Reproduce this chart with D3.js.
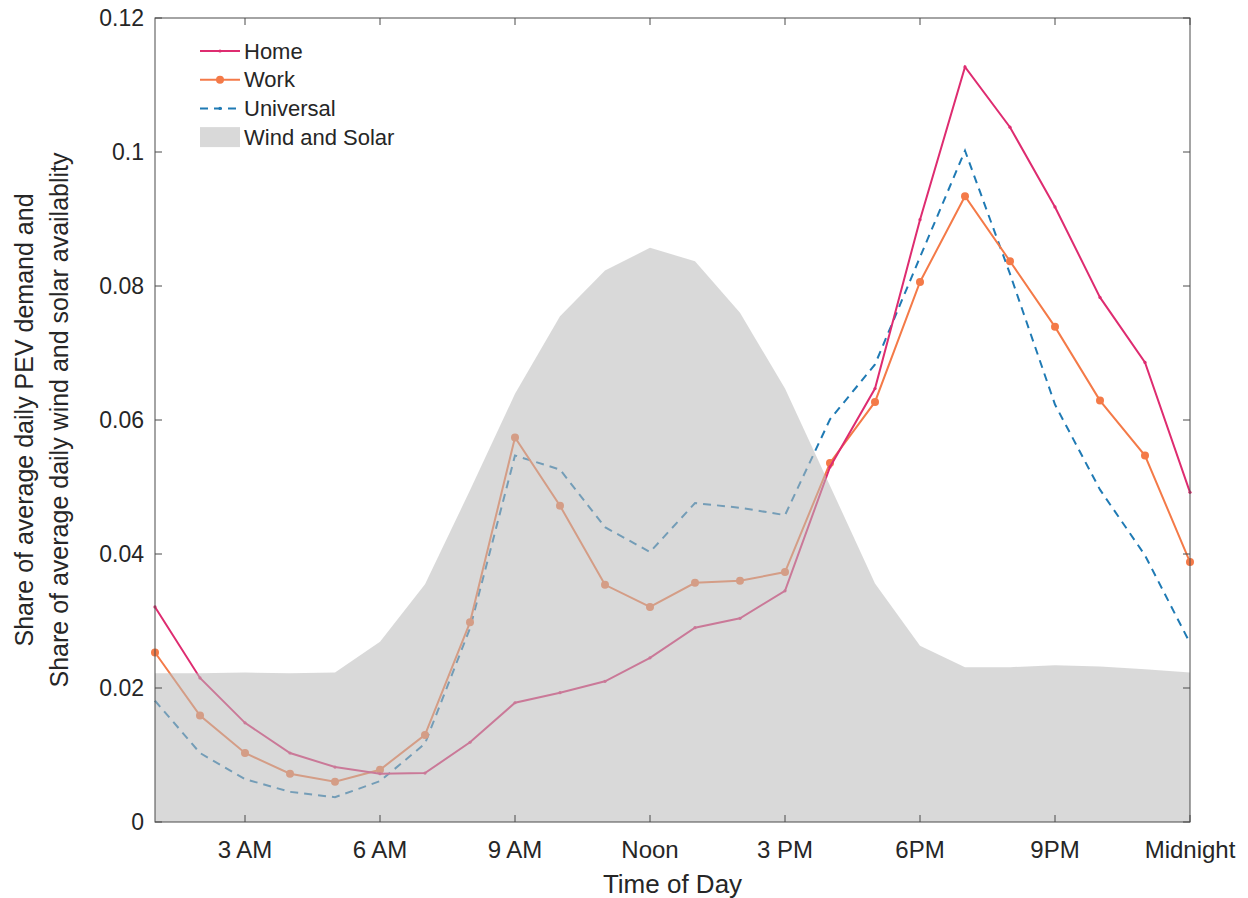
<!DOCTYPE html>
<html>
<head>
<meta charset="utf-8">
<script src="https://cdn.jsdelivr.net/npm/d3@7"></script>
<style>
  body { margin: 0; background: #fff; }
  text { font-family: "Liberation Sans", Arial, Helvetica, sans-serif; fill: #262626; }
</style>
</head>
<body>
<div id="chart"></div>
<script>
// Data: hour of day (1..24)
var hours = d3.range(1, 25);
var home = [0.0321, 0.0215, 0.0148, 0.0103, 0.0082, 0.0072, 0.0073, 0.0119, 0.0178, 0.0193, 0.0210, 0.0245,
            0.0290, 0.0304, 0.0345, 0.0530, 0.0647, 0.0899, 0.1127, 0.1037, 0.0918, 0.0783, 0.0686, 0.0492];
var work = [0.0253, 0.0159, 0.0103, 0.0072, 0.0060, 0.0078, 0.0130, 0.0298, 0.0574, 0.0472, 0.0354, 0.0321,
            0.0357, 0.0360, 0.0373, 0.0536, 0.0627, 0.0806, 0.0934, 0.0837, 0.0739, 0.0629, 0.0547, 0.0388];
var universal = [0.0181, 0.0103, 0.0064, 0.0045, 0.0037, 0.0061, 0.0117, 0.0289, 0.0547, 0.0526, 0.0440, 0.0403,
                 0.0476, 0.0469, 0.0458, 0.0601, 0.0683, 0.0843, 0.1002, 0.0818, 0.0623, 0.0496, 0.0398, 0.0267];
var windSolar = [0.0222, 0.0222, 0.0223, 0.0222, 0.0223, 0.0269, 0.0355, 0.0495, 0.0639, 0.0755, 0.0823, 0.0857,
                 0.0837, 0.0760, 0.0647, 0.0502, 0.0356, 0.0263, 0.0231, 0.0231, 0.0234, 0.0232, 0.0228, 0.0223];

var xTickHours = [3, 6, 9, 12, 15, 18, 21, 24];
var xTickLabels = ["3 AM", "6 AM", "9 AM", "Noon", "3 PM", "6PM", "9PM", "Midnight"];
var yTicks = [0, 0.02, 0.04, 0.06, 0.08, 0.1, 0.12];

var seriesNames = ["Home", "Work", "Universal", "Wind and Solar"];

var svgWidth = 1248;
var svgHeight = 898;
var margin = { top: 18, right: 58, bottom: 76, left: 155 };
var width = svgWidth - margin.left - margin.right;
var height = svgHeight - margin.top - margin.bottom;

var colorHome = "#de2c70";
var colorWork = "#f47a48";
var colorUni = "#1f7ab4";

var svg = d3.select("#chart").append("svg")
    .attr("width", svgWidth)
    .attr("height", svgHeight);

var plot = svg.append("g")
    .attr("transform", `translate(${margin.left}, ${margin.top})`);

var x = d3.scaleLinear().domain([1, 24]).range([0, width]);
var y = d3.scaleLinear().domain([0, 0.12]).range([height, 0]);

function rows(vals) {
    return hours.map(function(h, i) { return { h: h, v: vals[i] }; });
}

var line = d3.line().x(d => x(d.h)).y(d => y(d.v));

// Lines (drawn under the translucent area)
plot.append("path")
    .datum(rows(universal))
    .attr("d", line)
    .attr("fill", "none")
    .attr("stroke", colorUni)
    .attr("stroke-width", 2)
    .attr("stroke-dasharray", "8,6");

plot.append("path")
    .datum(rows(work))
    .attr("d", line)
    .attr("fill", "none")
    .attr("stroke", colorWork)
    .attr("stroke-width", 2);

plot.selectAll(".workDot").data(rows(work)).enter()
    .append("circle")
    .attr("class", "workDot")
    .attr("cx", d => x(d.h))
    .attr("cy", d => y(d.v))
    .attr("r", 4)
    .attr("fill", colorWork);

plot.append("path")
    .datum(rows(home))
    .attr("d", line)
    .attr("fill", "none")
    .attr("stroke", colorHome)
    .attr("stroke-width", 2);

plot.selectAll(".homeDot").data(rows(home)).enter()
    .append("circle")
    .attr("class", "homeDot")
    .attr("cx", d => x(d.h))
    .attr("cy", d => y(d.v))
    .attr("r", 1.6)
    .attr("fill", colorHome);

// Wind and solar area on top, semi transparent
var area = d3.area().x(d => x(d.h)).y0(y(0)).y1(d => y(d.v));
plot.append("path")
    .datum(rows(windSolar))
    .attr("d", area)
    .attr("fill", "#b9b9b9")
    .attr("fill-opacity", 0.55);

// Axes (box with inward ticks)
var axisColor = "#4a4a4a";
var tickLen = 7;

plot.append("rect")
    .attr("width", width)
    .attr("height", height)
    .attr("fill", "none")
    .attr("stroke", axisColor)
    .attr("stroke-width", 1);

xTickHours.forEach(function(h, i) {
    var px = x(h);
    plot.append("line").attr("x1", px).attr("x2", px).attr("y1", height).attr("y2", height - tickLen)
        .attr("stroke", axisColor);
    plot.append("line").attr("x1", px).attr("x2", px).attr("y1", 0).attr("y2", tickLen)
        .attr("stroke", axisColor);
    plot.append("text")
        .attr("x", px)
        .attr("y", height + 36)
        .attr("text-anchor", "middle")
        .attr("font-size", 24)
        .text(xTickLabels[i]);
});

yTicks.forEach(function(t) {
    var py = y(t);
    plot.append("line").attr("x1", 0).attr("x2", tickLen).attr("y1", py).attr("y2", py)
        .attr("stroke", axisColor);
    plot.append("line").attr("x1", width).attr("x2", width - tickLen).attr("y1", py).attr("y2", py)
        .attr("stroke", axisColor);
    plot.append("text")
        .attr("x", -11)
        .attr("y", py)
        .attr("dy", "0.35em")
        .attr("text-anchor", "end")
        .attr("font-size", 23)
        .text(d3.format("")(t));
});

// Axis labels
plot.append("text")
    .attr("x", width / 2)
    .attr("y", height + 71)
    .attr("text-anchor", "middle")
    .attr("font-size", 26)
    .text("Time of Day");

var yLabel = svg.append("text")
    .attr("transform", `translate(43, ${margin.top + height / 2}) rotate(-90)`)
    .attr("text-anchor", "middle")
    .attr("font-size", 25);
yLabel.append("tspan").attr("x", 0).attr("dy", "-0.4em").text("Share of average daily PEV demand and");
yLabel.append("tspan").attr("x", 0).attr("dy", "1.4em").text("Share of average daily wind and solar availablity");

// Legend
var legend = plot.append("g").attr("transform", "translate(45, 33)");
var rowH = 28.7;
seriesNames.forEach(function(name, i) {
    var g = legend.append("g").attr("transform", `translate(0, ${i * rowH})`);
    if (i === 3) {
        g.append("rect").attr("x", 0).attr("y", -10).attr("width", 40).attr("height", 20)
            .attr("fill", "#b9b9b9").attr("fill-opacity", 0.55);
    } else {
        var c = [colorHome, colorWork, colorUni][i];
        g.append("line").attr("x1", 0).attr("x2", 40).attr("y1", 0).attr("y2", 0)
            .attr("stroke", c).attr("stroke-width", 2)
            .attr("stroke-dasharray", i === 2 ? "8,6" : null);
        g.append("circle").attr("cx", 20).attr("cy", 0).attr("r", i === 1 ? 4 : 1.6).attr("fill", c);
    }
    g.append("text")
        .attr("x", 44)
        .attr("y", 0)
        .attr("dy", "0.35em")
        .attr("font-size", 22)
        .text(name);
});
</script>
</body>
</html>
